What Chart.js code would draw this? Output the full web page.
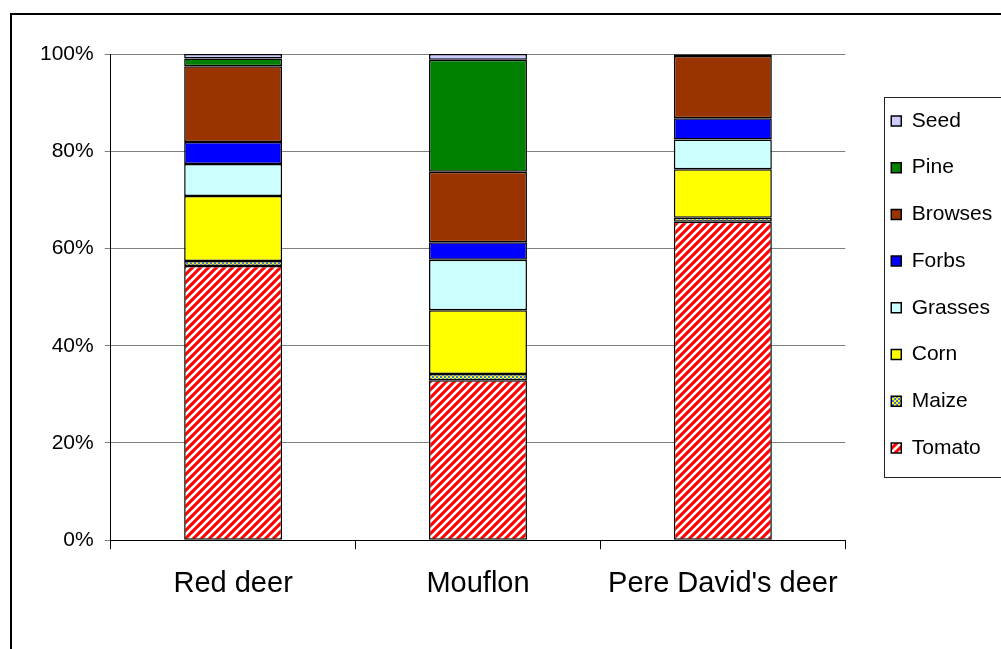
<!DOCTYPE html>
<html>
<head>
<meta charset="utf-8">
<script src="https://cdn.jsdelivr.net/npm/chart.js@4/dist/chart.umd.min.js"></script>
<style>
  html, body { margin: 0; padding: 0; background: #fff; overflow: hidden; }
  #frame { position: absolute; left: 10px; top: 13px; width: 1100px; height: 700px; border: 2px solid #000; }
  #wrap { position: absolute; left: 0; top: 0; width: 1001px; height: 649px; }
</style>
</head>
<body>
<div id="frame"></div>
<div id="wrap"><canvas id="myChart" width="1001" height="649"></canvas></div>
<script>
const animals = ['Red deer', 'Mouflon', "Pere David's deer"];
const tomato  = [56.4, 32.9, 65.5];
const maize   = [1.0, 1.3, 0.8];
const corn    = [13.4, 13.1, 10.0];
const grasses = [6.6, 10.4, 6.1];
const forbs   = [4.5, 3.6, 4.4];
const browses = [15.6, 14.5, 12.8];
const pine    = [1.6, 23.0, 0.3];
const seed    = [0.9, 1.2, 0.1];
const yTickLabels = ['0%', '20%', '40%', '60%', '80%', '100%'];

// red with white diagonal stripes
function stripePattern() {
  const c = document.createElement('canvas');
  c.width = 8; c.height = 8;
  const g = c.getContext('2d');
  g.fillStyle = '#ff0000';
  g.fillRect(0, 0, 8, 8);
  g.strokeStyle = '#ffffff';
  g.lineWidth = 2.6;
  [[-4, 4, 4, -4], [0, 8, 8, 0], [4, 12, 12, 4]].forEach(l => {
    g.beginPath(); g.moveTo(l[0], l[1]); g.lineTo(l[2], l[3]); g.stroke();
  });
  return g.createPattern(c, 'repeat');
}

// yellow / blue small checks
function checkPattern() {
  const c = document.createElement('canvas');
  c.width = 4; c.height = 4;
  const g = c.getContext('2d');
  g.fillStyle = '#ffff00';
  g.fillRect(0, 0, 4, 4);
  g.fillStyle = '#3f74e0';
  g.fillRect(0, 0, 2, 2);
  g.fillRect(2, 2, 2, 2);
  return g.createPattern(c, 'repeat');
}

Chart.defaults.font.family = '"Liberation Sans", Arial, sans-serif';
Chart.defaults.color = '#000';

function ds(label, data, color) {
  return { label: label, data: data, backgroundColor: color, borderColor: '#000',
           borderWidth: 1.5, borderSkipped: false };
}

// place legend next to the plot and frame it
const legendBox = {
  id: 'legendBox',
  afterLayout(chart) {
    const lg = chart.legend;
    const pad = lg.options.labels.padding;
    const dx = chart.chartArea.right + 46 - (lg.left + pad);
    const y0 = (lg.top + pad + lg.bottom - lg.columnSizes[0].height) / 2;
    const dy = chart.chartArea.top + 56.5 - y0;
    lg.left += dx; lg.right += dx;
    lg.top += dy; lg.bottom += dy;
  },
  afterDraw(chart) {
    const hb = chart.legend.legendHitBoxes;
    if (!hb || !hb.length) return;
    const first = hb[0], last = hb[hb.length - 1];
    const c = chart.ctx;
    const x = Math.round(first.left - 7) + 0.5;
    const y = Math.round(first.top - 13.5) + 0.5;
    const b = Math.round(last.top + last.height + 18.5) + 0.5;
    c.save();
    c.strokeStyle = '#222';
    c.lineWidth = 1;
    c.strokeRect(x, y, chart.width + 20 - x, b - y);
    c.restore();
  }
};

const ctx = document.getElementById('myChart').getContext('2d');
const myChart = new Chart(ctx, {
  type: 'bar',
  data: {
    labels: animals,
    datasets: [
      ds('Tomato', tomato, stripePattern()),
      ds('Maize', maize, checkPattern()),
      ds('Corn', corn, '#ffff00'),
      ds('Grasses', grasses, '#ccffff'),
      ds('Forbs', forbs, '#0000ff'),
      ds('Browses', browses, '#993300'),
      ds('Pine', pine, '#008000'),
      ds('Seed', seed, '#ccccff')
    ]
  },
  options: {
    responsive: false,
    animation: false,
    barPercentage: 0.4,
    categoryPercentage: 1.0,
    layout: { padding: { left: 29, top: 54, right: 19, bottom: 31 } },
    plugins: {
      legend: {
        position: 'right',
        reverse: true,
        labels: { boxWidth: 10, boxHeight: 10, padding: 25.7, font: { size: 21 } }
      },
      tooltip: { enabled: false }
    },
    scales: {
      x: {
        stacked: true,
        offset: true,
        grid: { offset: true, drawOnChartArea: false, tickLength: 9, color: '#000' },
        border: { color: '#000' },
        ticks: { font: { size: 29 }, padding: 17, maxRotation: 0, autoSkip: false }
      },
      y: {
        stacked: true,
        min: 0,
        max: 100,
        ticks: { stepSize: 20, padding: 11, font: { size: 21 },
                 callback: (v, i) => yTickLabels[i] },
        grid: { color: '#808080', tickLength: 6 },
        border: { color: '#000' }
      }
    }
  },
  plugins: [legendBox]
});
</script>
</body>
</html>
